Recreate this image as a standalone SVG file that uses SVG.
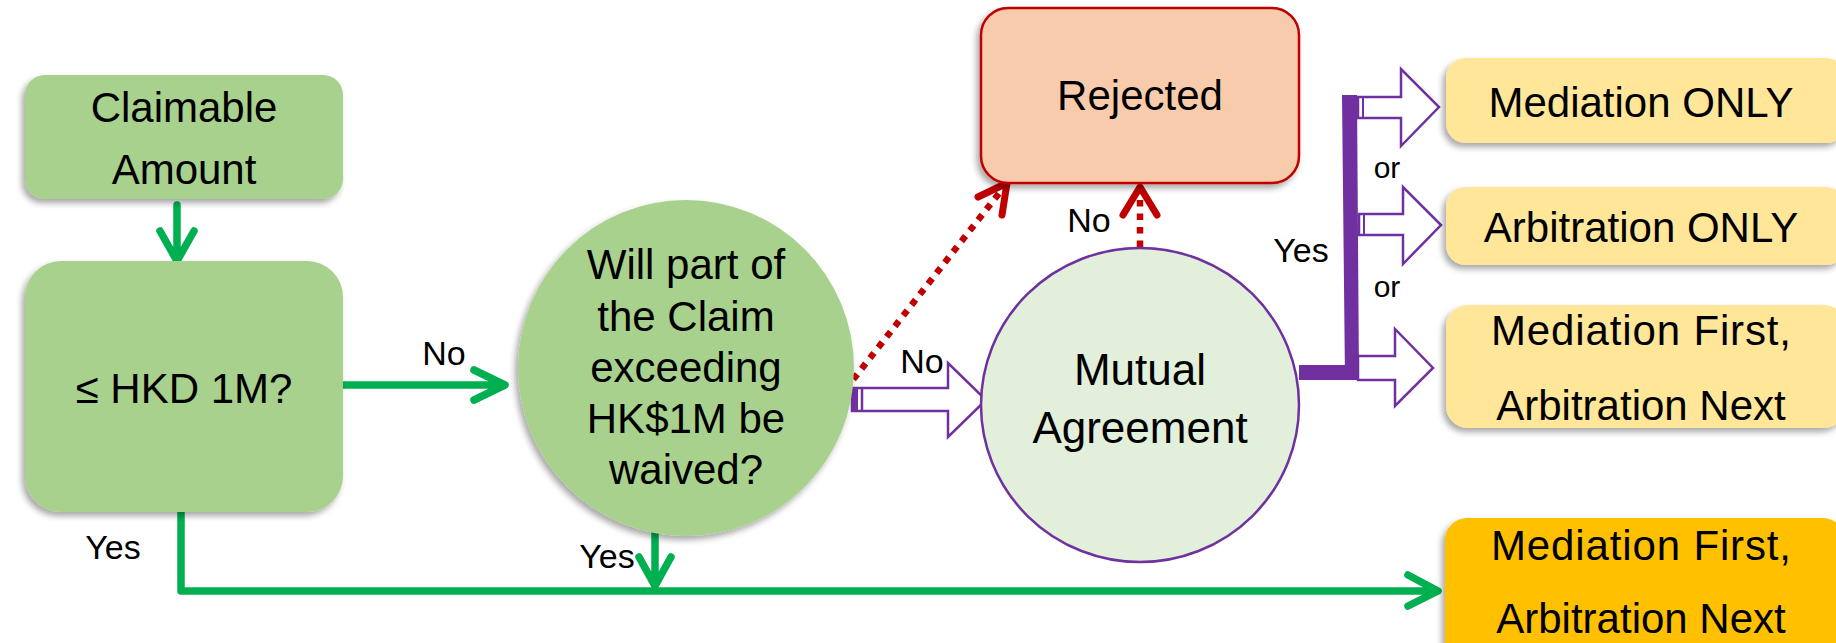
<svg xmlns="http://www.w3.org/2000/svg" width="1836" height="643" viewBox="0 0 1836 643">
<defs>
<filter id="sh" x="-10%" y="-10%" width="120%" height="130%">
<feDropShadow dx="-3" dy="4" stdDeviation="3" flood-color="#000" flood-opacity="0.35"/>
</filter>
<style>
text{font-family:"Liberation Sans",Arial,sans-serif;fill:#000;text-anchor:middle}
.t{font-size:42px}
.m{font-size:44px}
.l{font-size:34px}
.o{font-size:30px}
.g{fill:#A9D18E;filter:url(#sh)}
.y{fill:#FFE699;filter:url(#sh)}
.gl{fill:none;stroke:#00B050;stroke-width:7.5;stroke-linecap:round;stroke-linejoin:round}
.rd{fill:none;stroke:#C00000;stroke-width:6.5;stroke-dasharray:6.5 7}
.rh{fill:none;stroke:#C00000;stroke-width:7;stroke-linecap:round;stroke-linejoin:round}
.pa{fill:#fff;stroke:#7030A0;stroke-width:2.5}
.pf{fill:#7030A0}
</style>
</defs>
<g id="connectors">
<path class="gl" d="M177,205 V260 M160,231 L177,261 L194,231"/>
<path class="gl" d="M338,385 H504 M474,370 L505,385 L474,400"/>
<path class="gl" d="M181,512 V591 H1437 M1408,575 L1438,591 L1408,606"/>
<path class="gl" d="M655,532 V585 M639,557 L655,586 L671,557"/>
<path class="rd" d="M845,390 L1000,192"/>
<path class="rh" d="M978,197 L1007,183 L1002,215"/>
<path class="rd" d="M1140,247 V192"/>
<path class="rh" d="M1123,215 L1140,187 L1157,215"/>
<polygon class="pa" points="852,388 948,388 948,363 986,400 948,437 948,411 852,411"/>
<rect class="pf" x="852" y="388" width="6" height="23"/>
<line x1="862" y1="388" x2="862" y2="411" stroke="#7030A0" stroke-width="2.5"/>
<rect class="pf" x="1299" y="365" width="55" height="15"/>
<polygon class="pf" points="1342,95 1357,95 1359,380 1345,380"/>
<polygon class="pa" points="1358,97 1401,97 1401,69 1439,107 1401,146 1401,118 1358,118"/>
<line x1="1363" y1="97" x2="1363" y2="118" stroke="#7030A0" stroke-width="2"/>
<polygon class="pa" points="1359,214 1403,214 1403,187 1441,225 1403,264 1403,235 1359,235"/>
<line x1="1364" y1="214" x2="1364" y2="235" stroke="#7030A0" stroke-width="2"/>
<polygon class="pa" points="1358,356 1395,356 1395,329 1433,368 1395,406 1395,380 1358,380"/>
<text class="l" x="444" y="365">No</text>
<text class="l" x="922" y="373">No</text>
<text class="l" x="1089" y="232">No</text>
<text class="l" x="1301" y="262">Yes</text>
<text class="l" x="113" y="559">Yes</text>
<text class="l" x="607" y="568">Yes</text>
<text class="o" x="1387" y="178">or</text>
<text class="o" x="1387" y="297">or</text>
</g>
<g id="claimable">
<rect class="g" x="25" y="75" width="318" height="124" rx="20"/>
<text class="t" x="184" y="122">Claimable</text>
<text class="t" x="184" y="184">Amount</text>
</g>
<g id="threshold">
<rect class="g" x="25" y="261" width="318" height="251" rx="36"/>
<text class="t" x="184" y="403">≤ HKD 1M?</text>
</g>
<g id="waive">
<circle class="g" cx="686" cy="368" r="168"/>
<text class="t" x="686" y="279">Will part of</text>
<text class="t" x="686" y="331">the Claim</text>
<text class="t" x="686" y="382">exceeding</text>
<text class="t" x="686" y="433">HK$1M be</text>
<text class="t" x="686" y="484">waived?</text>
</g>
<g id="rejected">
<rect x="981" y="8" width="318" height="175" rx="27" fill="#F8CBAD" stroke="#C00000" stroke-width="2.5" filter="url(#sh)"/>
<text class="t" x="1140" y="110">Rejected</text>
</g>
<g id="mutual">
<ellipse cx="1140" cy="405" rx="159" ry="157" fill="#E2EFDA" stroke="#7030A0" stroke-width="2.5"/>
<text class="m" x="1140" y="385">Mutual</text>
<text class="m" x="1140" y="443">Agreement</text>
</g>
<g id="med-only">
<rect class="y" x="1446" y="58" width="400" height="85" rx="20"/>
<text class="t" x="1641" y="117">Mediation ONLY</text>
</g>
<g id="arb-only">
<rect class="y" x="1446" y="187" width="400" height="78" rx="20"/>
<text class="t" x="1641" y="242">Arbitration ONLY</text>
</g>
<g id="med-arb">
<rect class="y" x="1446" y="305" width="400" height="123" rx="22"/>
<text class="t" x="1641" y="345" textLength="300">Mediation First,</text>
<text class="t" x="1641" y="420">Arbitration Next</text>
</g>
<g id="med-arb-direct">
<rect x="1445" y="518" width="400" height="150" rx="22" fill="#FFC000" filter="url(#sh)"/>
<text class="t" x="1641" y="560" textLength="300">Mediation First,</text>
<text class="t" x="1641" y="633">Arbitration Next</text>
</g>
</svg>
